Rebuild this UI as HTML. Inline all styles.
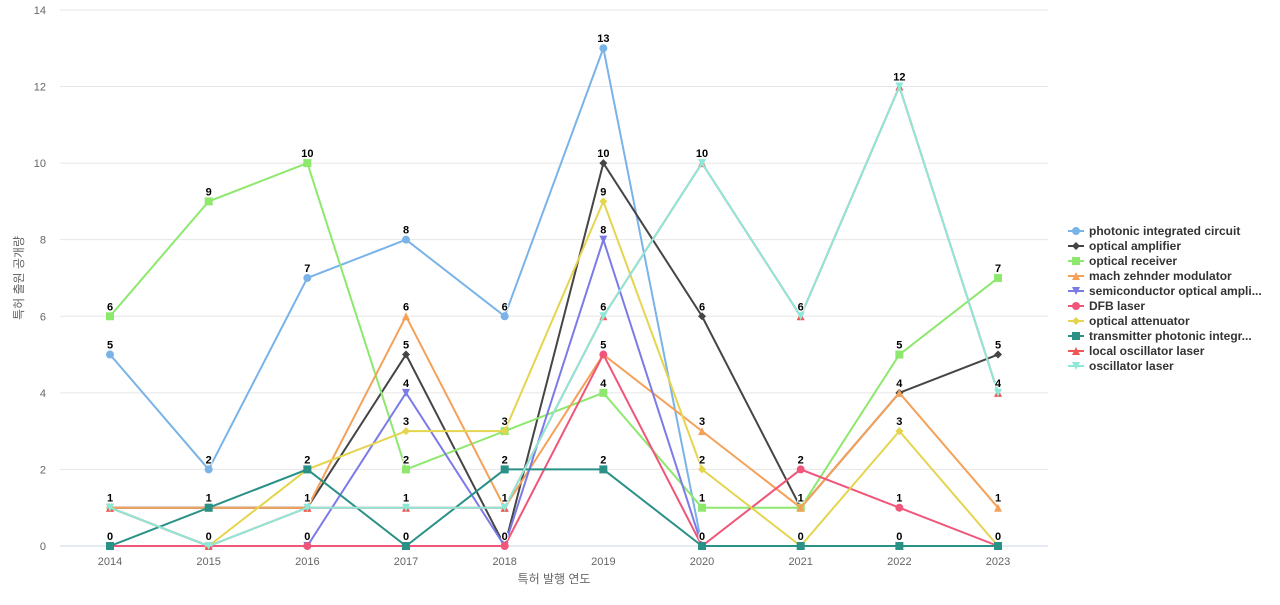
<!DOCTYPE html><html><head><meta charset="utf-8"><style>body{margin:0;background:#fff}svg{font-family:"Liberation Sans","Noto Sans CJK KR",sans-serif}</style></head><body>
<svg id="s" width="1280" height="600" xmlns="http://www.w3.org/2000/svg"></svg>
<script>
const S=[
["photonic integrated circuit","#7ab3e8","circle",[5,2,7,8,6,13,0,0,0,0]],
["optical amplifier","#454545","diamond",[1,1,1,5,0,10,6,1,4,5]],
["optical receiver","#8ee86e","rect",[6,9,10,2,3,4,1,1,5,7]],
["mach zehnder modulator","#f4a15a","tri",[1,1,1,6,1,5,3,1,4,1]],
["semiconductor optical ampli...","#7b7be8","dtri",[1,0,0,4,0,8,0,0,0,0]],
["DFB laser","#f0557a","circle",[0,0,0,0,0,5,0,2,1,0]],
["optical attenuator","#e5d44e","diamond",[1,0,2,3,3,9,2,0,3,0]],
["transmitter photonic integr...","#2a9187","rect",[0,1,2,0,2,2,0,0,0,0]],
["local oscillator laser","#f25555","tri",[1,0,1,1,1,6,10,6,12,4]],
["oscillator laser","#8de8d8","dtri",[1,0,1,1,1,6,10,6,12,4]]];
const X=i=>110+i*98.67,Y=v=>546-v*38.29;let h='';
for(let v=0;v<=14;v+=2){h+=`<line x1="60" x2="1048" y1="${Y(v)}" y2="${Y(v)}" stroke="${v?'#e6e6e6':'#ccd6eb'}"/><text x="46" y="${Y(v)+4}" font-size="11" fill="#666" text-anchor="end">${v}</text>`}
for(let i=0;i<10;i++)h+=`<text x="${X(i)}" y="565" font-size="11" fill="#666" text-anchor="middle">${2014+i}</text>`;
h+=`<text x="554" y="583" font-size="12" fill="#666" text-anchor="middle">특허 발행 연도</text><text transform="translate(23,278) rotate(-90)" font-size="12" fill="#666" text-anchor="middle">특허 출원 공개량</text>`;
function mk(t,x,y,c){if(t=='circle')return `<circle cx="${x}" cy="${y}" r="4" fill="${c}"/>`;if(t=='rect')return `<rect x="${x-4}" y="${y-4}" width="8" height="8" fill="${c}"/>`;if(t=='diamond')return `<path d="M${x} ${y-4}L${x+4} ${y}L${x} ${y+4}L${x-4} ${y}Z" fill="${c}"/>`;if(t=='tri')return `<path d="M${x} ${y-4}L${x+4} ${y+4}L${x-4} ${y+4}Z" fill="${c}"/>`;return `<path d="M${x} ${y+4}L${x+4} ${y-4}L${x-4} ${y-4}Z" fill="${c}"/>`}
let lab='';
S.forEach(([n,c,t,d],k)=>{h+=`<polyline fill="none" stroke="${c}" stroke-width="2" points="${d.map((v,i)=>X(i)+','+Y(v)).join(' ')}"/>`;d.forEach((v,i)=>{h+=mk(t,X(i),Y(v),c);lab+=`<text x="${X(i)}" y="${Y(v)-6}" font-size="11" font-weight="bold" text-anchor="middle" fill="#000" stroke="#fff" stroke-width="2" paint-order="stroke">${v}</text>`});
const ly=231+k*15;h+=`<line x1="1068" x2="1084" y1="${ly}" y2="${ly}" stroke="${c}" stroke-width="2"/>${mk(t,1076,ly,c)}<text x="1089" y="${ly+4}" font-size="12" font-weight="bold" fill="#333">${n}</text>`});
document.getElementById('s').innerHTML=h+lab;
</script></body></html>
